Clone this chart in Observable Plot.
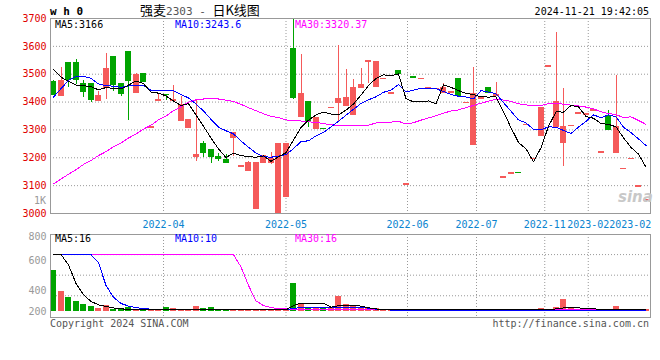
<!DOCTYPE html>
<html><head><meta charset="utf-8">
<script src="https://cdn.jsdelivr.net/npm/d3@7"></script>
<script src="https://cdn.jsdelivr.net/npm/@observablehq/plot@0.6"></script>
<style>
body{margin:0;background:#fff;}
#wrap{position:relative;width:660px;height:360px;overflow:hidden;background:#fff;font-family:"DejaVu Sans Mono",monospace;}
#wrap svg{position:absolute;left:0;}
.t{position:absolute;white-space:nowrap;line-height:1;font-size:10px;}
</style></head><body>
<div id="wrap"></div>
<script>
// ---- candle data (index = trading day on chart) ----
const openP  = [3474,3421,3542,3542,3465,3465,3402,3448,3563,3465, 3581,3431,3502,3305,3403,3428,3401,3330,3305,3201,
                3253,3230,3204,3194,3268,3165,3149,3013,3180,3178, 3000,3056,3592,3345,3401,3303,3306,3376,3396,3384,
                3352,3450,3542,3453,3480,3427,3513,3102,3492,3480, 3446,3444,3430,3432,3483,3394,3244,3409,3451,3421,
                3126,3140,3148,3315,3193,3277,3525,3310,3250,3311, 3355,3352,3367,3216,3347,3216,3157,3193,3093,3044];
const highP  = [3476,3525,3542,3552,3478,3465,3439,3575,3563,3468, 3581,3501,3502,3311,3431,3428,3459,3421,3336,3408,
                3260,3230,3215,3213,3292,3171,3188,3183,3207,3220, 3252,3252,3700,3570,3401,3345,3306,3382,3603,3517,
                3481,3522,3548,3545,3486,3433,3513,3108,3492,3486, 3452,3450,3466,3438,3483,3400,3525,3415,3451,3471,
                3132,3146,3148,3321,3199,3382,3531,3651,3449,3317, 3361,3358,3373,3222,3370,3495,3163,3199,3099,3050];
const lowP   = [3422,3421,3453,3463,3415,3397,3402,3408,3437,3421, 3334,3431,3470,3305,3403,3405,3401,3330,3305,3188,
                3200,3181,3188,3181,3205,3165,3149,3013,3180,3176, 3000,3056,3409,3345,3308,3303,3300,3376,3326,3384,
                3352,3450,3466,3453,3480,3427,3499,3102,3486,3480, 3446,3444,3430,3432,3421,3394,3244,3409,3430,3421,
                3126,3140,3142,3315,3193,3277,3525,3310,3170,3311, 3355,3352,3367,3216,3298,3216,3157,3193,3093,3044];
const closeP = [3424,3478,3478,3478,3435,3405,3423,3520,3460,3427, 3474,3499,3470,3311,3409,3422,3408,3391,3336,3212,
                3217,3200,3194,3181,3292,3171,3183,3183,3207,3196, 3252,3252,3414,3431,3328,3345,3300,3382,3413,3417,
                3453,3463,3548,3545,3486,3433,3499,3108,3486,3486, 3452,3450,3453,3438,3421,3400,3430,3415,3430,3427,
                3132,3146,3142,3321,3199,3382,3531,3402,3312,3317, 3361,3358,3373,3222,3298,3313,3163,3199,3099,3050];
// ---- moving average lines ----
const ma5  = [3518,3489,3475,3461,3459,3455,3444,3452,3449,3447, 3461,3476,3466,3436,3432,3422,3404,3388,3394,3354,
              3313,3271,3232,3201,3217,3208,3204,3202,3207,3187, 3204,3218,3264,3309,3335,3354,3364,3357,3354,3371,
              3393,3425,3459,3485,3498,3494,3501,3412,3401,3401, 3404,3394,3462,3453,3441,3431,3427,3419,3418,3419,
              3365,3308,3255,3232,3186,3236,3313,3365,3364,3388, 3383,3348,3342,3323,3320,3311,3272,3237,3213,3166];
const ma10 = [3418,3448,3478,3492,3493,3485,3465,3459,3457,3453, 3458,3460,3459,3442,3440,3442,3440,3427,3415,3393,
              3368,3338,3310,3297,3286,3260,3238,3217,3204,3202, 3206,3211,3233,3258,3261,3279,3291,3311,3331,3353,
              3374,3395,3408,3419,3435,3443,3463,3436,3443,3450, 3449,3448,3438,3427,3421,3418,3411,3441,3436,3430,
              3398,3367,3336,3325,3302,3301,3311,3310,3298,3287, 3310,3331,3354,3344,3354,3347,3310,3290,3268,3244];
const ma30 = [3106,3124,3141,3157,3176,3190,3208,3222,3240,3253, 3271,3285,3303,3317,3336,3350,3369,3383,3400,3408,
              3411,3412,3411,3407,3402,3392,3380,3369,3358,3349, 3344,3336,3334,3332,3329,3327,3323,3318,3317,3316,
              3316,3314,3317,3325,3327,3328,3331,3321,3326,3335, 3343,3351,3360,3368,3372,3380,3388,3396,3403,3411,
              3407,3403,3394,3390,3386,3387,3395,3396,3392,3389, 3386,3382,3376,3365,3359,3355,3344,3347,3334,3320];
// ---- volume panel ----
const volume = [445,241,186,147,115,96,79,105,69,69, 86,63,78,60,60,86,76,62,60,96,
                76,86,67,63,63,60,62,62,60,62, 60,60,322,128,76,76,72,72,196,115,
                99,76,76,76,67,62,60,62,60,62, 60,62,60,62,67,60,62,60,62,60,
                62,60,60,62,60,72,62,86,164,76, 62,62,62,62,62,96,62,62,62,67];
const volMa5  = [600,600,500,320,210,145,112,96,82,73, 68,66,64,63,63,63,63,63,63,63,
                 63,63,63,63,63,63,63,63,63,63, 63,63,105,128,128,128,128,88,104,104,
                 104,100,84,72,64,62,62,62,62,62, 62,62,62,62,62,62,62,62,62,62,
                 62,62,62,62,62,63,66,72,82,82, 82,75,72,70,65,68,68,66,66,65];
const volMa10 = [600,600,600,600,600,600,520,300,185,125, 100,84,76,69,66,63,63,63,63,63,
                 63,63,63,63,63,63,63,63,63,63, 63,63,80,82,82,82,82,86,88,88,
                 88,88,79,70,65,61,61,61,61,61, 61,61,61,61,61,61,61,61,61,61,
                 61,61,61,61,61,61,61,61,61,61, 61,61,61,61,61,61,61,61,61,61];
const volMa30 = [600,600,600,600,600,600,600,600,600,600, 600,600,600,600,600,600,600,600,600,600,
                 600,600,600,600,600,480,300,150,105,85, 75,72,70,70,70,70,70,70,70,70,
                 70,70,70,70,70,70,70,70,70,70, 70,70,70,70,70,70,70,70,70,70,
                 70,70,62,62,62,62,62,62,62,62, 62,62,62,62,62,62,62,62,62,62];
// ---- axis ticks / labels ----
const tickLabels = ["2022-04","2022-05","2022-06","2022-07","2022-11","2023-02","2023-02"];
const tickIndex  = [14.67, 31.0, 47.2, 56.4, 65.5, 71.3, 76.9];
const gridIndex  = [14.67, 31.0, 47.2, 56.4, 65.5, 71.3];
const priceTicks = [3000,3100,3200,3300,3400,3500,3600,3700];
const volTicks   = [200,400,600,800];
const legendTop = ["MA5:3166","MA10:3243.6","MA30:3320.37"];
const legendVol = ["MA5:16","MA10:10","MA30:16"];

const RED = "#f55a5a", GREEN = "#00a400";
const idx = d3.range(openP.length);
const col = i => closeP[i] >= openP[i] ? RED : GREEN;
const mono = "DejaVu Sans Mono, monospace";
const dot = {stroke:"#999", strokeOpacity:1, strokeDasharray:"1,2"};
const plain = d => String(d);

const priceChart = Plot.plot({
  width:660, height:232, marginLeft:50, marginRight:10, marginTop:18, marginBottom:19,
  x: {type:"linear", domain:[-0.4, 79.6]}, y:{domain:[3000,3700]},
  style:{fontFamily:mono, fontSize:"10px", background:"transparent", overflow:"visible"},
  marks:[
    Plot.gridY(priceTicks.slice(1,7), dot),
    Plot.gridX(gridIndex, dot),
    Plot.ruleX(idx, {x:i=>i, y1:i=>lowP[i], y2:i=>highP[i], stroke:col, shapeRendering:"crispEdges"}),
    Plot.rect(idx, {x1:i=>i-0.4, x2:i=>i+0.4, y1:i=>openP[i], y2:i=>closeP[i], fill:col, shapeRendering:"crispEdges"}),
    Plot.line(idx, {x:i=>i, y:i=>ma30[i], stroke:"#ff00ff", strokeWidth:1, shapeRendering:"crispEdges"}),
    Plot.line(idx, {x:i=>i, y:i=>ma10[i], stroke:"#0000ff", strokeWidth:1, shapeRendering:"crispEdges"}),
    Plot.line(idx, {x:i=>i, y:i=>ma5[i], stroke:"#000", strokeWidth:1, shapeRendering:"crispEdges"}),
    Plot.frame({stroke:"#999"}),
    Plot.axisY(priceTicks, {tickSize:0, tickPadding:4, fill:"#e00000", label:null, fontSize:10, tickFormat:plain}),
    Plot.axisX(tickIndex, {tickSize:0, tickPadding:7, fill:"#0a84d0", label:null, fontSize:10,
      tickFormat: d => tickLabels[tickIndex.indexOf(d)]})
  ]
});
priceChart.style.top = "0px";

const volChart = Plot.plot({
  width:660, height:90, marginLeft:50, marginRight:10, marginTop:4, marginBottom:3,
  x: {type:"linear", domain:[-0.4, 79.6], axis:null},
  y:{domain:[50,800], range:[80.7,3.5], clamp:true},
  style:{fontFamily:mono, fontSize:"10px", background:"transparent", overflow:"visible"},
  marks:[
    Plot.gridY(volTicks.slice(0,3), dot),
    Plot.gridX(gridIndex, dot),
    Plot.rectY(idx, {x1:i=>i-0.4, x2:i=>i+0.4, y:i=>volume[i], fill:col, shapeRendering:"crispEdges"}),
    Plot.line(idx, {x:i=>i, y:i=>volMa30[i], stroke:"#ff00ff", strokeWidth:1, shapeRendering:"crispEdges"}),
    Plot.line(idx, {x:i=>i, y:i=>volMa10[i], stroke:"#0000ff", strokeWidth:1, shapeRendering:"crispEdges"}),
    Plot.line(idx, {x:i=>i, y:i=>volMa5[i], stroke:"#000", strokeWidth:1, shapeRendering:"crispEdges"}),
    Plot.frame({stroke:"#999"}),
    Plot.axisY([volTicks[3]], {tickSize:0, tickPadding:4, fill:"#999", label:null, dy:2.5, fontSize:10, tickFormat:plain}),
    Plot.axisY([volTicks[2]], {tickSize:0, tickPadding:4, fill:"#999", label:null, dy:6.5, fontSize:10, tickFormat:plain}),
    Plot.axisY(volTicks.slice(0,2), {tickSize:0, tickPadding:4, fill:"#999", label:null, dy:15.8, fontSize:10, tickFormat:plain})
  ]
});
volChart.style.top = "230px";

const wrap = document.getElementById("wrap");
wrap.appendChild(priceChart);
wrap.appendChild(volChart);

function txt(s, css){ const d=document.createElement("div"); d.className="t"; d.textContent=s; Object.assign(d.style, css); wrap.appendChild(d); return d; }
txt("w h 0", {left:"50px", top:"6px", fontSize:"11px", fontWeight:"bold"});
const ttl = document.createElement("div"); ttl.className="t";
Object.assign(ttl.style,{left:"140px",top:"3px",fontSize:"13px",fontFamily:"'Noto Sans CJK SC',sans-serif"});
ttl.innerHTML = '强麦<span style="color:#555;font-family:\'DejaVu Sans Mono\',monospace;font-size:11px">2303 - </span>日K线图';
wrap.appendChild(ttl);
txt("2024-11-21 19:42:05", {right:"11px", top:"7px"});
const lc = ["#000","#0000ff","#ff00ff"], lx = [55,175,295];
legendTop.forEach((s,k)=>txt(s,{left:lx[k]+"px", top:"19.5px", color:lc[k]}));
legendVol.forEach((s,k)=>txt(s,{left:lx[k]+"px", top:"233.5px", color:lc[k]}));
txt("1K", {right:"614px", top:"195.5px", color:"#999"});
txt("sina", {left:"618px", top:"190px", fontSize:"15px", fontStyle:"italic", fontWeight:"bold", color:"#c8c8c8", fontFamily:"'DejaVu Sans',sans-serif"});
txt("Copyright 2024 SINA.COM", {left:"50px", top:"319px", color:"#555"});
txt("http://finance.sina.com.cn", {right:"11px", top:"319px", color:"#555"});
</script>
</body></html>
